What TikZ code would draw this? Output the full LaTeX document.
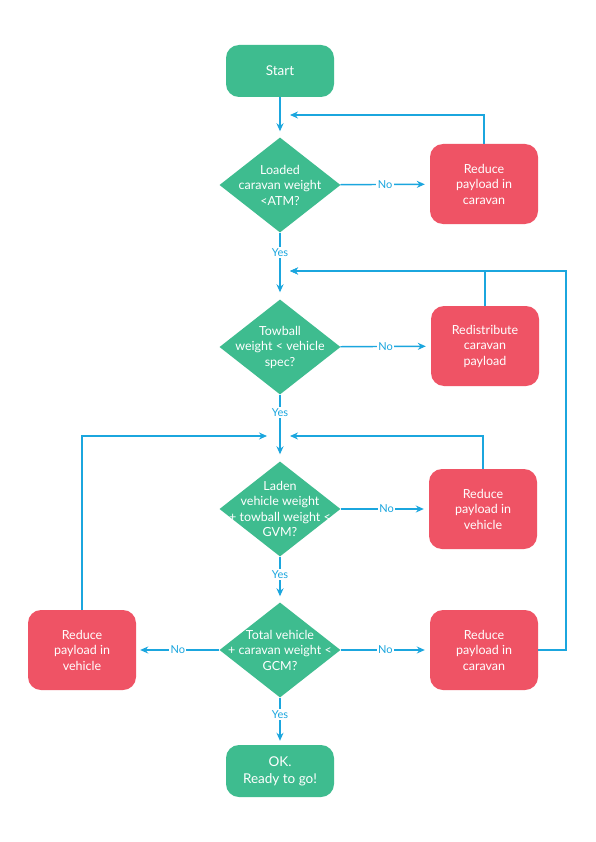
\documentclass[tikz,border=0pt]{standalone}
\usepackage{fontspec}
\setmainfont{Lato}
\usetikzlibrary{shapes.geometric,arrows.meta}
\definecolor{fcgreen}{RGB}{62,188,143}
\definecolor{fcred}{RGB}{239,83,101}
\definecolor{fcblue}{RGB}{27,166,222}
\tikzset{
  term/.style={draw=none,fill=fcgreen,rounded corners=13pt,minimum width=108pt,minimum height=52pt,inner sep=0pt},
  act/.style={draw=none,fill=fcred,rounded corners=13pt,minimum width=108pt,minimum height=80pt,inner sep=0pt},
  dia/.style={draw=none,fill=fcgreen,diamond,minimum width=121pt,minimum height=95pt,inner sep=0pt},
  txt/.style={text=white,align=center,font=\fontsize{12.5}{15.5}\selectfont,inner sep=0pt},
  ttxt/.style={text=white,align=center,font=\fontsize{13.5}{17}\selectfont,inner sep=0pt},
  conn/.style={draw=fcblue,line width=1.4pt,-{Stealth[length=8pt,width=7pt]}},
  lbl/.style={fill=white,text=fcblue,font=\fontsize{11}{11}\selectfont,inner sep=1.5pt}
}
\begin{document}
\begin{tikzpicture}[x=1pt,y=-1pt]
\useasboundingbox[fill=white] (0,0) rectangle (595,842);
% nodes
\node[term] (start) at (280,71) {};
\node[ttxt] (startt) at (start) {Start};
\node[dia] (d1) at (280,185) {};
\node[txt] (d1t) at (d1) {Loaded\\caravan weight\\<ATM?};
\node[act] (r1) at (484,184) {};
\node[txt] (r1t) at (r1) {Reduce\\payload in\\caravan};
\node[dia] (d2) at (280,347) {};
\node[txt] (d2t) at (d2) {Towball\\weight < vehicle\\spec?};
\node[act] (r2) at (485,346) {};
\node[txt] (r2t) at (r2) {Redistribute\\caravan\\payload};
\node[dia] (d3) at (280,509) {};
\node[txt] (d3t) at (d3) {Laden\\vehicle weight\\+ towball weight <\\GVM?};
\node[act] (r3) at (483,509) {};
\node[txt] (r3t) at (r3) {Reduce\\payload in\\vehicle};
\node[dia] (d4) at (280,650) {};
\node[txt] (d4t) at (d4) {Total vehicle\\+ caravan weight <\\GCM?};
\node[act] (r4) at (484,650) {};
\node[txt] (r4t) at (r4) {Reduce\\payload in\\caravan};
\node[act] (r5) at (82,650) {};
\node[txt] (r5t) at (r5) {Reduce\\payload in\\vehicle};
\node[term] (ok) at (280,771) {};
\node[ttxt] (okt) at (ok) {OK.\\Ready to go!};
% feedback end points
\coordinate (f1) at (290,115);
\coordinate (f2) at (290,271);
\coordinate (f3r) at (290,436);
\coordinate (f3l) at (267,436);
\coordinate (c4) at (566,271);
% main flow
\draw[conn,shorten >=6pt] (start) -- (d1);
\draw[conn,shorten >=7pt] (d1) -- node[lbl,pos=0.3] (y1) {Yes} (d2);
\draw[conn,shorten >=7pt] (d2) -- node[lbl,pos=0.27] (y2) {Yes} (d3);
\draw[conn,shorten >=6pt] (d3) -- node[lbl,pos=0.4] (y3) {Yes} (d4);
\draw[conn,shorten >=4pt] (d4) -- node[lbl,pos=0.35] (y4) {Yes} (ok);
% no branches
\draw[conn,shorten >=5pt] (d1) -- node[lbl,pos=0.5] (n1) {No} (r1);
\draw[conn,shorten >=5pt] (d2) -- node[lbl,pos=0.5] (n2) {No} (r2);
\draw[conn,shorten >=5pt] (d3) -- node[lbl,pos=0.52] (n3) {No} (r3);
\draw[conn,shorten >=5pt] (d4) -- node[lbl,pos=0.5] (n4) {No} (r4);
\draw[conn,shorten >=4pt] (d4) -- node[lbl,pos=0.5] (n5) {No} (r5);
% feedback loops
\draw[conn] (r1.north) |- (f1);
\draw[conn] (r2.north) |- (f2);
\draw[conn] (r4.east) -| (c4) -- (f2);
\draw[conn] (r3.north) |- (f3r);
\draw[conn] (r5.north) |- (f3l);
\end{tikzpicture}
\end{document}
